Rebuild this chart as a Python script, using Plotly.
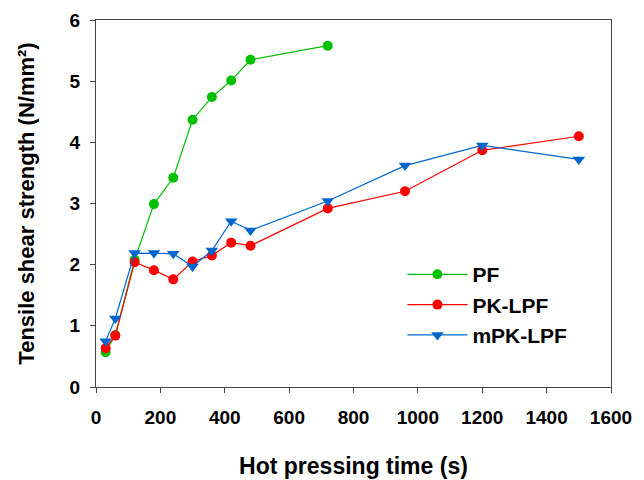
import plotly.graph_objects as go

time_s = [30, 60, 120, 180, 240, 300, 360, 420, 480, 720, 960, 1200, 1500]
pf_time = [30, 60, 120, 180, 240, 300, 360, 420, 480, 720]
pf = [0.57, 0.85, 2.08, 2.99, 3.42, 4.37, 4.74, 5.01, 5.35, 5.58]
pk_lpf = [0.635, 0.84, 2.04, 1.91, 1.76, 2.05, 2.15, 2.36, 2.31, 2.92, 3.20, 3.87, 4.10]
mpk_lpf = [0.75, 1.12, 2.19, 2.19, 2.18, 1.97, 2.23, 2.71, 2.56, 3.04, 3.62, 3.95, 3.72]

x_ticks = [0, 200, 400, 600, 800, 1000, 1200, 1400, 1600]
y_ticks = [0, 1, 2, 3, 4, 5, 6]

FONT = "Liberation Sans, Arial, sans-serif"

fig = go.Figure()
fig.add_trace(go.Scatter(x=pf_time, y=pf, name="PF", mode="lines+markers",
                         line=dict(color="#00c000", width=1.2),
                         marker=dict(symbol="circle", size=10, color="#00c000")))
fig.add_trace(go.Scatter(x=time_s, y=pk_lpf, name="PK-LPF", mode="lines+markers",
                         line=dict(color="#ff0000", width=1.2),
                         marker=dict(symbol="circle", size=10, color="#ff0000")))
fig.add_trace(go.Scatter(x=time_s, y=mpk_lpf, name="mPK-LPF", mode="lines+markers",
                         line=dict(color="#0066cc", width=1.2),
                         marker=dict(symbol="triangle-down", size=11, color="#0066cc")))

fig.update_layout(
    width=644, height=480,
    margin=dict(l=88, r=41, t=12, b=101),
    paper_bgcolor="white", plot_bgcolor="white",
    font=dict(family=FONT, size=19, color="black"),
    showlegend=True,
    legend=dict(x=0.595, y=0.362, xanchor="left", yanchor="top",
                font=dict(family=FONT, size=21, color="black", weight="bold"),
                bgcolor="rgba(0,0,0,0)", itemwidth=60, tracegroupgap=0),
    xaxis=dict(range=[0, 1600], tickvals=x_ticks, ticks="outside", ticklen=5,
               showgrid=False, zeroline=False, showline=True, linecolor="#444",
               linewidth=1, mirror=True, automargin=False, ticklabelstandoff=8,
               ticklabeloverflow="allow",
               tickfont=dict(family=FONT, size=19, weight="bold"),
               title=dict(text="Hot pressing time (s)", standoff=31,
                          font=dict(family=FONT, size=23, weight="bold"))),
    yaxis=dict(range=[0, 6], tickvals=y_ticks, ticks="outside", ticklen=5,
               showgrid=False, zeroline=False, showline=True, linecolor="#444",
               linewidth=1, mirror=True, automargin=False, ticklabelstandoff=6,
               ticklabeloverflow="allow",
               tickfont=dict(family=FONT, size=19, weight="bold"),
               title=dict(text="Tensile shear strength (N/mm²)", standoff=28,
                          font=dict(family=FONT, size=22, weight="bold"))),
)

fig.write_html("out.html")
